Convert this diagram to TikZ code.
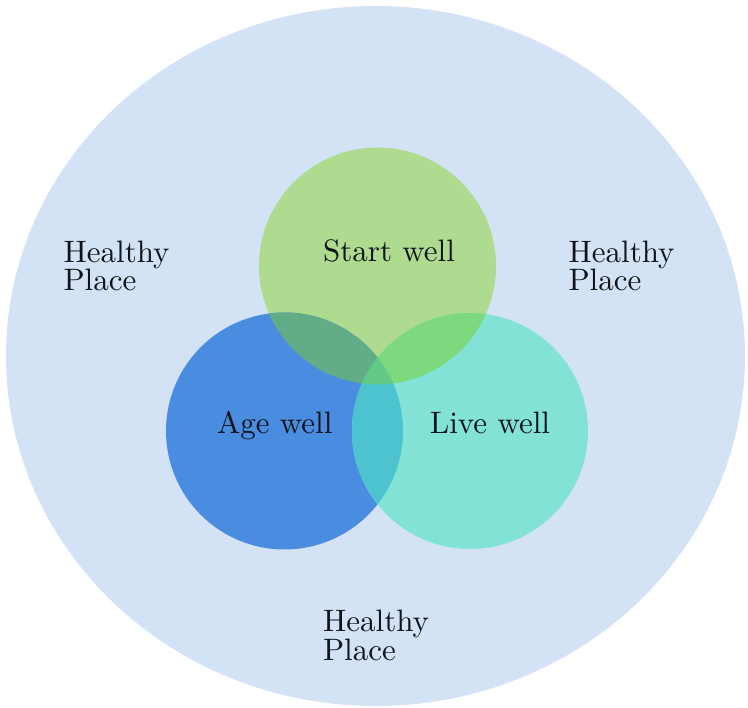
\documentclass[tikz,border=0pt]{standalone}
\usepackage{tikz}
\definecolor{bgblue}{HTML}{D3E3F5}
\definecolor{cg}{HTML}{AEDB8F}
\definecolor{cb}{HTML}{4A8DE0}
\definecolor{ct}{HTML}{83E2D6}
\definecolor{cbg}{HTML}{62AD87}
\definecolor{cgt}{HTML}{7ED97E}
\definecolor{cbt}{HTML}{4CC3CE}
\definecolor{call}{HTML}{62C986}
\definecolor{txt}{HTML}{10131A}
\tikzset{
  lbl/.style={inner sep=0pt, text=txt, font=\fontsize{10}{9.35}\selectfont, scale=3.1, transform shape},
  place/.style={lbl, align=left, anchor=base west}
}
\begin{document}
\begin{tikzpicture}[x=1pt,y=-1pt]
\useasboundingbox (0,0) rectangle (748,708);
\fill[bgblue] (375.5,356) ellipse [x radius=369.5, y radius=350];
\def\circG{(377.5,266) circle [radius=118.5]}
\def\circB{(284.5,431) circle [radius=118.5]}
\def\circT{(470,431) circle [radius=118]}
\fill[cg] \circG;
\fill[cb] \circB;
\fill[ct] \circT;
\begin{scope}\clip \circG; \fill[cbg] \circB;\end{scope}
\begin{scope}\clip \circG; \fill[cgt] \circT;\end{scope}
\begin{scope}\clip \circB; \fill[cbt] \circT;\end{scope}
\begin{scope}\clip \circG; \clip \circB; \fill[call] \circT;\end{scope}
\node[lbl, anchor=base] (start) at (389,262) {Start well};
\node[lbl, anchor=base] (age) at (274.7,434) {Age well};
\node[lbl, anchor=base] (live) at (490,434) {Live well};
\node[place] (hpl) at (63,291) {Healthy\\Place};
\node[place] (hpr) at (568,291) {Healthy\\Place};
\node[place] (hpb) at (322.5,660.5) {Healthy\\Place};
\end{tikzpicture}
\end{document}
